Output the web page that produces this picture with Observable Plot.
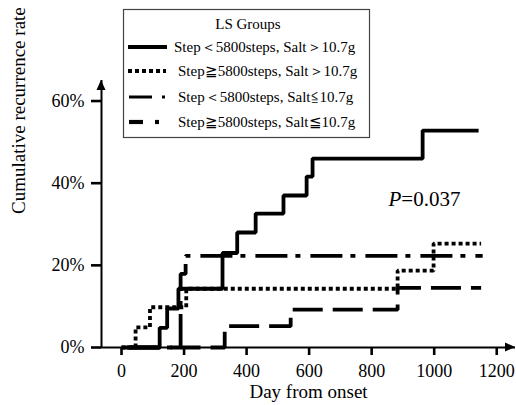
<!DOCTYPE html>
<html>
<head>
<meta charset="utf-8">
<script src="https://cdn.jsdelivr.net/npm/d3@7"></script>
<script src="https://cdn.jsdelivr.net/npm/@observablehq/plot@0.6"></script>
<style>
html, body { margin: 0; padding: 0; background: #fff; }
#chart { width: 516px; height: 405px; }
</style>
</head>
<body>
<div id="chart"></div>
<script>
// ---- data ----
const groups = [
  "Step＜5800steps, Salt＞10.7g",
  "Step≧5800steps, Salt＞10.7g",
  "Step＜5800steps, Salt≦10.7g",
  "Step≧5800steps, Salt≦10.7g"
];
const legendTitle = "LS Groups";
// group 1: solid
const dayA  = [0, 122, 146, 182, 323, 370, 429, 518, 592, 611, 963, 1142];
const rateA = [0, 4.8, 9.5, 14.3, 23.0, 28.0, 32.6, 37.0, 41.6, 46.0, 52.8, 52.8];
// group 2: dotted
const dayB  = [0, 45, 91, 207, 883, 998, 1150];
const rateB = [0, 4.9, 9.8, 14.3, 18.7, 25.3, 25.3];
// group 3: dash-dot
const dayC  = [0, 189, 205, 1155];
const rateC = [0, 17.9, 22.3, 22.3];
// group 4: dashed
const dayD  = [0, 330, 541, 883, 1150];
const rateD = [0, 5.2, 9.2, 14.5, 14.5];

const xTicks = [0, 200, 400, 600, 800, 1000, 1200];
const yTicks = [0, 20, 40, 60];
const xTitle = "Day from onset";
const yTitle = "Cumulative recurrence rate";
const pLabel = "P";
const pValue = "=0.037";

// ---- build ----
const toRows = (days, rates, g) => days.map((d, i) => ({day: d, rate: rates[i], group: g}));
const series = [
  toRows(dayA, rateA, groups[0]),
  toRows(dayB, rateB, groups[1]),
  toRows(dayC, rateC, groups[2]),
  toRows(dayD, rateD, groups[3])
];
const lineStyle = [
  {dash: null, offset: 0, w: 3.8},
  {dash: "4,3", offset: 0, w: 3.8},
  {dash: "32,8,5,10", offset: 49.5, w: 3.8},
  {dash: "30,10", offset: 31, w: 3.8}
];
const drawOrder = [3, 2, 1, 0];
const font = "'Liberation Serif', 'Times New Roman', Times, serif";

const lineMarks = drawOrder.map(i => Plot.line(series[i], {
  x: "day", y: "rate", curve: "step-after",
  stroke: "#000", strokeWidth: lineStyle[i].w,
  strokeDasharray: lineStyle[i].dash, strokeDashoffset: lineStyle[i].offset,
  strokeLinecap: "butt", strokeLinejoin: "miter"
}));

const plot = Plot.plot({
  width: 516, height: 405,
  marginLeft: 101, marginRight: 1, marginTop: 80, marginBottom: 58,
  style: {fontFamily: font, fontSize: "18px", color: "#000", background: "#fff", overflow: "visible"},
  x: {domain: [-64, 1260]},
  y: {domain: [0, 65]},
  marks: [
    Plot.axisX({ticks: xTicks, tickSize: 8, tickPadding: 9, strokeWidth: 2.6, label: null,
                fontSize: 18, tickFormat: d => String(d)}),
    Plot.axisY({ticks: yTicks, tickSize: 10, tickPadding: 7, strokeWidth: 2.6, label: null,
                fontSize: 18, tickFormat: d => d + "%"}),
    Plot.ruleY([0], {stroke: "#000", strokeWidth: 2}),
    Plot.ruleX([-64], {stroke: "#000", strokeWidth: 2}),
    ...lineMarks,
    Plot.text([xTitle], {frameAnchor: "bottom", dy: 50, fontSize: 19, fill: "#000"}),
    Plot.text([yTitle], {frameAnchor: "left", dx: -83, rotate: -90, fontSize: 19, fill: "#000"}),
    Plot.text([pLabel], {x: () => 895, y: () => 36, textAnchor: "end", fontSize: 21, fontStyle: "italic", fill: "#000"}),
    Plot.text([pValue], {x: () => 895, y: () => 36, textAnchor: "start", fontSize: 21, fill: "#000"})
  ]
});

document.getElementById("chart").appendChild(plot);

// ---- arrowheads on axes ----
const sx = plot.scale("x"), sy = plot.scale("y");
const svg = d3.select(plot);
const xEnd = sx.apply(sx.domain[1]), y0 = sy.apply(0);
const xStart = sx.apply(sx.domain[0]), yTop = sy.apply(sy.domain[1]);
svg.append("path")
  .attr("d", `M${xEnd},${y0} L${xEnd - 10},${y0 - 4.5} L${xEnd - 10},${y0 + 4.5} Z`)
  .attr("fill", "#000");
svg.append("path")
  .attr("d", `M${xStart},${yTop} L${xStart - 4.5},${yTop + 10} L${xStart + 4.5},${yTop + 10} Z`)
  .attr("fill", "#000");

// ---- legend box ----
const lg = svg.append("g").attr("fill", "#000");
lg.append("rect").attr("x", 123.5).attr("y", 9.5).attr("width", 246).attr("height", 128)
  .attr("fill", "#fff").attr("stroke", "#444").attr("stroke-width", 1.2);
lg.append("text").attr("x", 248).attr("y", 24).attr("dy", "0.35em")
  .attr("text-anchor", "middle")
  .style("font-family", font).style("font-size", "15px").text(legendTitle);
const rowY = [47, 71, 97, 122];
const textX = [174, 178, 178, 178];
groups.forEach((g, i) => {
  const y = rowY[i];
  if (i === 0) {
    lg.append("line").attr("x1", 128).attr("x2", 167).attr("y1", y).attr("y2", y)
      .attr("stroke", "#000").attr("stroke-width", 4);
  } else if (i === 1) {
    lg.append("line").attr("x1", 128).attr("x2", 166).attr("y1", y).attr("y2", y)
      .attr("stroke", "#000").attr("stroke-width", 4).attr("stroke-dasharray", "4,3");
  } else if (i === 2) {
    lg.append("line").attr("x1", 129).attr("x2", 152).attr("y1", y).attr("y2", y)
      .attr("stroke", "#000").attr("stroke-width", 3);
    lg.append("line").attr("x1", 162).attr("x2", 165).attr("y1", y).attr("y2", y)
      .attr("stroke", "#000").attr("stroke-width", 3);
  } else {
    lg.append("line").attr("x1", 129).attr("x2", 143).attr("y1", y).attr("y2", y)
      .attr("stroke", "#000").attr("stroke-width", 4.2);
    lg.append("line").attr("x1", 155).attr("x2", 159).attr("y1", y).attr("y2", y)
      .attr("stroke", "#000").attr("stroke-width", 4.2);
  }
  lg.append("text").attr("x", textX[i]).attr("y", y).attr("dy", "0.35em")
    .attr("text-anchor", "start")
    .style("font-family", font).style("font-size", "15px").text(g);
});
</script>
</body>
</html>
